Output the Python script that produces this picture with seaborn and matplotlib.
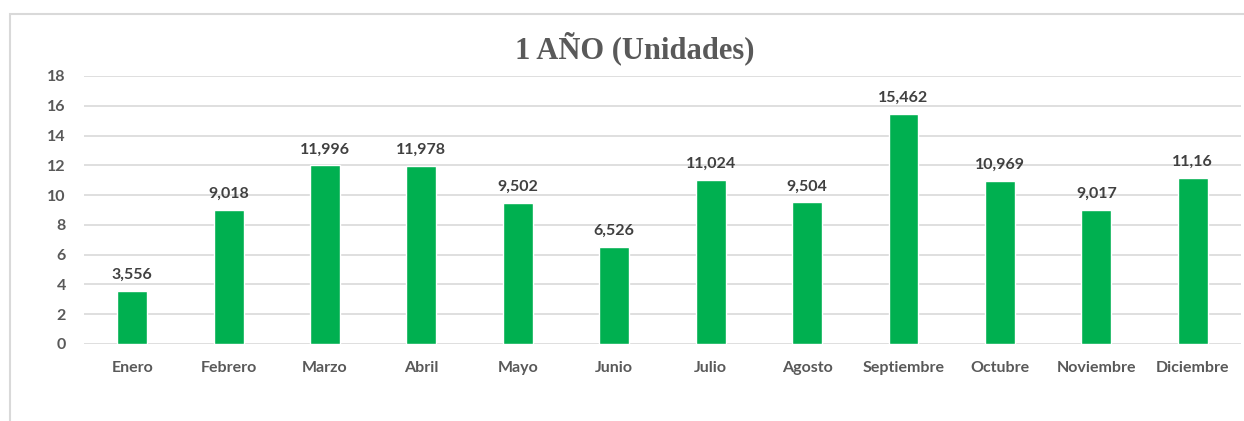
import matplotlib
matplotlib.use("Agg")
import matplotlib.pyplot as plt
import seaborn as sns
import pandas as pd
from matplotlib.patches import Rectangle

meses = ["Enero", "Febrero", "Marzo", "Abril", "Mayo", "Junio", "Julio",
         "Agosto", "Septiembre", "Octubre", "Noviembre", "Diciembre"]
unidades = [3.556, 9.018, 11.996, 11.978, 9.502, 6.526, 11.024,
            9.504, 15.462, 10.969, 9.017, 11.16]
yticks = [0, 2, 4, 6, 8, 10, 12, 14, 16, 18]

df = pd.DataFrame({"mes": meses, "unidades": unidades})

sns.set_theme(style="white")
plt.rcParams["font.family"] = ["Lato", "DejaVu Sans"]

gris = "#595959"
verde = "#00B050"
linea = "#D9D9D9"

fig = plt.figure(figsize=(12.44, 4.21), dpi=100)
ax = fig.add_axes([0.0675, 0.1829, 0.9301, 0.6366])

sns.barplot(data=df, x="mes", y="unidades", color=verde, saturation=1,
            width=0.31, ax=ax, zorder=3)

ax.set_ylim(0, 18)
ax.set_yticks(yticks)
ax.set_xlim(-0.5, len(meses) - 0.5)
ax.yaxis.grid(True, color=linea, linewidth=1.2, zorder=0)
ax.set_axisbelow(True)
for s in ax.spines.values():
    s.set_visible(False)
ax.tick_params(axis="both", length=0, labelsize=11.5, labelcolor=gris)
ax.tick_params(axis="y", pad=13)
ax.tick_params(axis="x", pad=12)
for lab in ax.get_xticklabels() + ax.get_yticklabels():
    lab.set_fontweight("bold")
ax.set_xlabel("")
ax.set_ylabel("")

for i, v in enumerate(unidades):
    txt = f"{v:g}".replace(".", ",")
    ax.annotate(txt, (i, v), xytext=(0, 6.5), textcoords="offset points",
                ha="center", va="bottom", fontsize=11.5, fontweight="bold",
                color="#404040")

fig.text(0.5106, 0.885, "1 AÑO (Unidades)", ha="center", va="center",
         fontsize=22, fontweight="bold", color=gris,
         family=["Liberation Serif", "DejaVu Serif"])

# outer chart frame
fig.patches.append(Rectangle((10 / 1244, -0.1), 1.2, 0.1 + 1 - 14 / 421,
                             transform=fig.transFigure, fill=False,
                             edgecolor=linea, linewidth=1.5))

fig.savefig("out.png", dpi=100, facecolor="white")
